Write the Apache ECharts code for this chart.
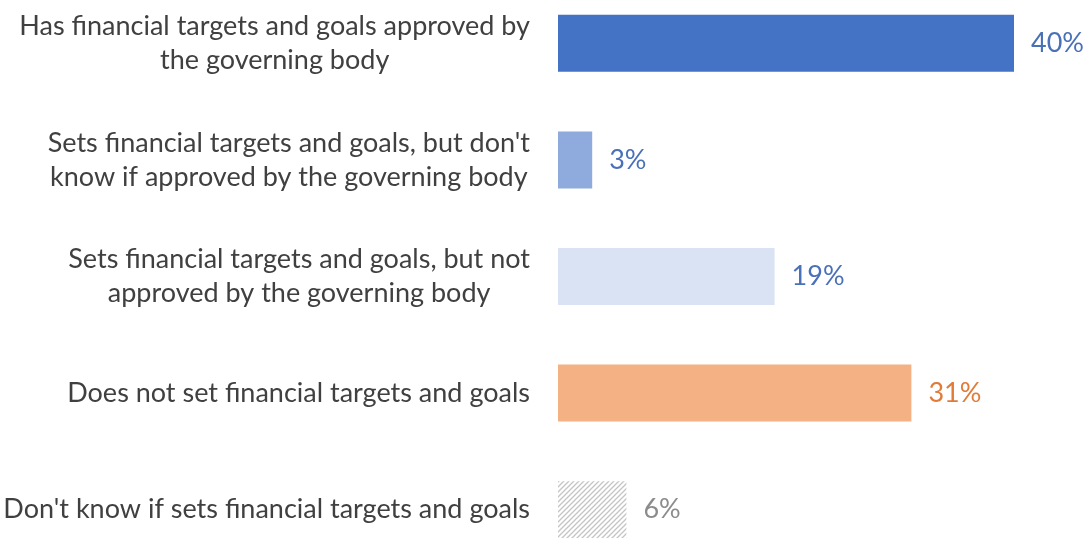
<!DOCTYPE html>
<html>
<head>
<meta charset="utf-8">
<title>Financial targets and goals</title>
<script src="https://cdn.jsdelivr.net/npm/echarts@6/dist/echarts.min.js"></script>
<style>
  html, body { margin: 0; padding: 0; background: #ffffff; }
  #chart { width: 1087px; height: 538px; }
</style>
</head>
<body>
<div id="chart"></div>
<script>
// Survey responses, top to bottom
const categories = [
  ['Has financial targets and goals approved by', 'the governing body'],
  ["Sets financial targets and goals, but don't", 'know if approved by the governing body'],
  ['Sets financial targets and goals, but not', 'approved by the governing body'],
  ['Does not set financial targets and goals'],
  ["Don't know if sets financial targets and goals"]
];
const values = [40, 3, 19, 31, 6];

// Styling per bar
const barColors = ['#4472C4', '#8FAADC', '#DAE3F3', '#F4B183', 'hatch'];
const labelColors = ['#4A70B8', '#4A70B8', '#4A70B8', '#E07B39', '#8C8C8C'];

// Light diagonal hatch used for the "don't know" bar
function makeHatch() {
  const s = 5;
  const c = document.createElement('canvas');
  c.width = s; c.height = s;
  const g = c.getContext('2d');
  g.fillStyle = '#ffffff';
  g.fillRect(0, 0, s, s);
  g.strokeStyle = '#C4C4C4';
  g.lineWidth = 1.3;
  g.beginPath();
  g.moveTo(-1, s + 1); g.lineTo(s + 1, -1);
  g.moveTo(-1, 1); g.lineTo(1, -1);
  g.moveTo(s - 1, s + 1); g.lineTo(s + 1, s - 1);
  g.stroke();
  return c;
}
const hatch = makeHatch();

const font = 'Lato, "Open Sans", sans-serif';

const chart = echarts.init(document.getElementById('chart'), null, { renderer: 'canvas' });

chart.setOption({
  animation: false,
  backgroundColor: '#ffffff',
  grid: {
    left: 558, top: -15, width: 524.4, height: 583,
    containLabel: false, outerBoundsMode: 'none'
  },
  xAxis: {
    type: 'value', min: 0, max: 46,
    show: false
  },
  yAxis: {
    type: 'category',
    inverse: true,
    data: categories.map(lines => lines.join('\n')),
    axisLine: { show: false },
    axisTick: { show: false },
    splitLine: { show: false },
    axisLabel: {
      margin: 28,
      align: 'right',
      fontFamily: font,
      fontSize: 27,
      color: '#404040',
      lineHeight: 34,
      formatter: v => v.split('\n').map(l => '{c|' + l + '}').join('\n'),
      rich: {
        c: { align: 'center', fontFamily: font, fontSize: 27, color: '#404040', lineHeight: 34 }
      }
    }
  },
  series: [{
    type: 'bar',
    barWidth: 57,
    data: values.map((v, i) => ({
      value: v,
      itemStyle: {
        color: barColors[i] === 'hatch' ? { image: hatch, repeat: 'repeat' } : barColors[i]
      },
      label: { color: labelColors[i] }
    })),
    label: {
      show: true,
      position: 'right',
      distance: 17,
      fontFamily: font,
      fontSize: 27,
      formatter: '{c}%'
    }
  }]
});
</script>
</body>
</html>
